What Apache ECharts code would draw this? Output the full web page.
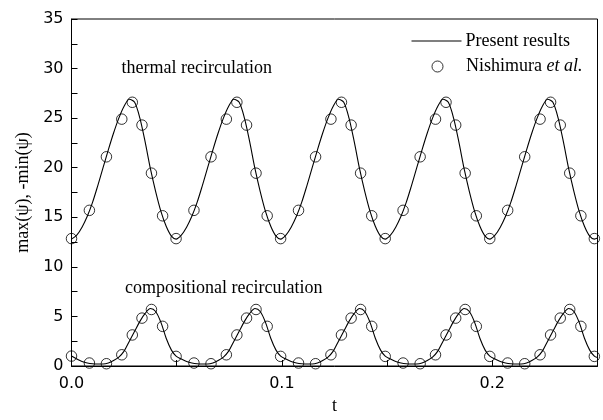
<!DOCTYPE html>
<html><head><meta charset="utf-8">
<script src="https://cdn.jsdelivr.net/npm/echarts@6/dist/echarts.min.js"></script>
<style>html,body{margin:0;padding:0;background:#fff}#c{width:603px;height:420px}</style>
</head><body><div id="c"></div>
<script>
// Present results (continuous curve), t values
const curveT = [
  0, 0.0025, 0.005, 0.0075, 0.01, 0.0125, 0.015, 0.0175, 0.02, 0.0225, 0.025, 0.0275, 0.03, 0.0325, 0.035, 0.0375, 0.04, 0.0425, 0.045, 0.0475,
  0.0497, 0.0522, 0.0547, 0.0572, 0.0597, 0.0622, 0.0647, 0.0672, 0.0697, 0.0722, 0.0747, 0.0772, 0.0797, 0.0822, 0.0847, 0.0872, 0.0897, 0.0922, 0.0947, 0.0972,
  0.0994, 0.1019, 0.1044, 0.1069, 0.1094, 0.1119, 0.1144, 0.1169, 0.1194, 0.1219, 0.1244, 0.1269, 0.1294, 0.1319, 0.1344, 0.1369, 0.1394, 0.1419, 0.1444, 0.1469,
  0.1491, 0.1516, 0.1541, 0.1566, 0.1591, 0.1616, 0.1641, 0.1666, 0.1691, 0.1716, 0.1741, 0.1766, 0.1791, 0.1816, 0.1841, 0.1866, 0.1891, 0.1916, 0.1941, 0.1966,
  0.1988, 0.2013, 0.2038, 0.2063, 0.2088, 0.2113, 0.2138, 0.2163, 0.2188, 0.2213, 0.2238, 0.2263, 0.2288, 0.2313, 0.2338, 0.2363, 0.2388, 0.2413, 0.2438, 0.2463,
  0.2485, 0.25
];
// thermal recirculation curve, max(psi)
const thermalCurve = [
  12.8, 13.2, 14.0, 15.1, 16.5, 18.2, 20.0, 21.8, 23.5, 25.0, 26.2, 26.9, 26.6, 25.0, 22.6, 19.9, 17.6, 15.6, 14.1, 13.1,
  12.8, 13.2, 14.0, 15.1, 16.5, 18.2, 20.0, 21.8, 23.5, 25.0, 26.2, 26.9, 26.6, 25.0, 22.6, 19.9, 17.6, 15.6, 14.1, 13.1,
  12.8, 13.2, 14.0, 15.1, 16.5, 18.2, 20.0, 21.8, 23.5, 25.0, 26.2, 26.9, 26.6, 25.0, 22.6, 19.9, 17.6, 15.6, 14.1, 13.1,
  12.8, 13.2, 14.0, 15.1, 16.5, 18.2, 20.0, 21.8, 23.5, 25.0, 26.2, 26.9, 26.6, 25.0, 22.6, 19.9, 17.6, 15.6, 14.1, 13.1,
  12.8, 13.2, 14.0, 15.1, 16.5, 18.2, 20.0, 21.8, 23.5, 25.0, 26.2, 26.9, 26.6, 25.0, 22.6, 19.9, 17.6, 15.6, 14.1, 13.1,
  12.8, 12.9
];
// compositional recirculation curve, -min(psi)
const compCurve = [
  1.0, 0.7, 0.45, 0.3, 0.22, 0.2, 0.2, 0.3, 0.55, 0.9, 1.5, 2.5, 3.5, 4.5, 5.3, 5.8, 5.5, 4.4, 2.8, 1.6,
  1.0, 0.7, 0.45, 0.3, 0.22, 0.2, 0.2, 0.3, 0.55, 0.9, 1.5, 2.5, 3.5, 4.5, 5.3, 5.8, 5.5, 4.4, 2.8, 1.6,
  1.0, 0.7, 0.45, 0.3, 0.22, 0.2, 0.2, 0.3, 0.55, 0.9, 1.5, 2.5, 3.5, 4.5, 5.3, 5.8, 5.5, 4.4, 2.8, 1.6,
  1.0, 0.7, 0.45, 0.3, 0.22, 0.2, 0.2, 0.3, 0.55, 0.9, 1.5, 2.5, 3.5, 4.5, 5.3, 5.8, 5.5, 4.4, 2.8, 1.6,
  1.0, 0.7, 0.45, 0.3, 0.22, 0.2, 0.2, 0.3, 0.55, 0.9, 1.5, 2.5, 3.5, 4.5, 5.3, 5.8, 5.5, 4.4, 2.8, 1.6,
  1.0, 0.85
];
// Nishimura et al. points
const dotT = [
  0, 0.0085, 0.0166, 0.0239, 0.0289, 0.0335, 0.038, 0.0433,
  0.0497, 0.0582, 0.0663, 0.0736, 0.0786, 0.0832, 0.0877, 0.093,
  0.0994, 0.1079, 0.116, 0.1233, 0.1283, 0.1329, 0.1374, 0.1427,
  0.1491, 0.1576, 0.1657, 0.173, 0.178, 0.1826, 0.1871, 0.1924,
  0.1988, 0.2073, 0.2154, 0.2227, 0.2277, 0.2323, 0.2368, 0.2421,
  0.2485
];
const thermalDots = [
  12.85, 15.7, 21.1, 24.9, 26.6, 24.3, 19.45, 15.15,
  12.85, 15.7, 21.1, 24.9, 26.6, 24.3, 19.45, 15.15,
  12.85, 15.7, 21.1, 24.9, 26.6, 24.3, 19.45, 15.15,
  12.85, 15.7, 21.1, 24.9, 26.6, 24.3, 19.45, 15.15,
  12.85, 15.7, 21.1, 24.9, 26.6, 24.3, 19.45, 15.15,
  12.85
];
const compDots = [
  1.0, 0.3, 0.23, 1.13, 3.13, 4.83, 5.7, 4.0,
  0.97, 0.3, 0.23, 1.13, 3.13, 4.83, 5.7, 4.0,
  0.97, 0.3, 0.23, 1.13, 3.13, 4.83, 5.7, 4.0,
  0.97, 0.3, 0.23, 1.13, 3.13, 4.83, 5.7, 4.0,
  0.97, 0.3, 0.23, 1.13, 3.13, 4.83, 5.7, 4.0,
  0.97
];
const xTickLabels = ['0.0', '0.1', '0.2'];
const yTickLabels = ['0', '5', '10', '15', '20', '25', '30', '35'];
const seriesNames = ['Present results', 'Nishimura et al.'];
const annotations = ['thermal recirculation', 'compositional recirculation'];

const serif = '"Liberation Serif", "Times New Roman", serif';
const sans = '"DejaVu Sans", sans-serif';

const chart = echarts.init(document.getElementById('c'), null, {renderer: 'canvas'});
const dotStyle = {color: 'rgba(0,0,0,0)', borderColor: '#000', borderWidth: 1};

chart.setOption({
  animation: false,
  backgroundColor: '#fff',
  grid: {left: 71.5, right: 5.5, top: 19, bottom: 51, show: true, borderColor: '#000', borderWidth: 1, backgroundColor: 'transparent'},
  xAxis: {
    type: 'value', min: 0, max: 0.25, interval: 0.05,
    name: 't', nameLocation: 'middle', nameGap: 31,
    nameTextStyle: {fontFamily: serif, fontSize: 18, color: '#000'},
    axisLine: {onZero: false, lineStyle: {color: '#000', width: 1}},
    axisTick: {inside: true, length: 6, lineStyle: {color: '#000'}},
    axisLabel: {
      margin: 10, fontFamily: sans, fontSize: 16, color: '#000',
      formatter: v => { const k = Math.round(v * 10); return Math.abs(v * 10 - k) < 1e-6 && xTickLabels[k] !== undefined ? xTickLabels[k] : ''; }
    },
    splitLine: {show: false}
  },
  yAxis: {
    type: 'value', min: 0, max: 35, interval: 5,
    name: 'max(ψ), -min(ψ)', nameLocation: 'middle', nameGap: 39,
    nameTextStyle: {fontFamily: serif, fontSize: 18, color: '#000'},
    axisLine: {show: true, lineStyle: {color: '#000', width: 1}},
    axisTick: {show: true, inside: true, length: 6, lineStyle: {color: '#000'}},
    minorTick: {show: true, splitNumber: 2, length: 6, lineStyle: {color: '#000'}},
    axisLabel: {margin: 8, fontFamily: sans, fontSize: 16, color: '#000',
      formatter: v => yTickLabels[Math.round(v / 5)]},
    splitLine: {show: false}
  },
  legend: [
    {
      data: [{name: seriesNames[0], icon: 'rect'}], left: 411.5, top: 32, padding: 0,
      itemWidth: 50, itemHeight: 1.1,
      itemStyle: {color: '#000', borderWidth: 0},
      textStyle: {fontFamily: serif, fontSize: 18, color: '#000', padding: [0, 0, 0, -1]},
      selectedMode: false
    },
    {
      data: [seriesNames[1]], left: 431.5, top: 57.5, padding: 0, itemWidth: 11, itemHeight: 11,
      itemStyle: {color: 'rgba(0,0,0,0)', borderColor: '#000', borderWidth: 1},
      formatter: () => '{a|Nishimura }{b|et al.}',
      textStyle: {fontFamily: serif, fontSize: 18, color: '#000', padding: [0, 0, 0, 18],
        rich: {a: {fontFamily: serif, fontSize: 18, color: '#000'}, b: {fontFamily: serif, fontSize: 18, fontStyle: 'italic', color: '#000'}}},
      selectedMode: false
    }
  ],
  graphic: [
    {type: 'text', x: 121.5, y: 68, style: {text: annotations[0], font: '18px ' + serif, fill: '#000', verticalAlign: 'middle'}},
    {type: 'text', x: 125, y: 288, style: {text: annotations[1], font: '18px ' + serif, fill: '#000', verticalAlign: 'middle'}}
  ],
  series: [
    {
      name: seriesNames[0], type: 'line', symbol: 'none', smooth: 0.3,
      data: curveT.map((t, i) => [t, thermalCurve[i]]),
      lineStyle: {color: '#000', width: 1.1}, itemStyle: {color: '#000'}, z: 2, silent: true
    },
    {
      name: seriesNames[0], type: 'line', symbol: 'none', smooth: 0.3,
      data: curveT.map((t, i) => [t, compCurve[i]]),
      lineStyle: {color: '#000', width: 1.1}, itemStyle: {color: '#000'}, z: 2, silent: true
    },
    {
      name: seriesNames[1], type: 'scatter', symbol: 'circle', symbolSize: 10.5,
      data: dotT.map((t, i) => [t, thermalDots[i]]),
      itemStyle: dotStyle, z: 3, silent: true
    },
    {
      name: seriesNames[1], type: 'scatter', symbol: 'circle', symbolSize: 10.5,
      data: dotT.map((t, i) => [t, compDots[i]]),
      itemStyle: dotStyle, z: 3, silent: true
    }
  ]
});
</script>
</body></html>
